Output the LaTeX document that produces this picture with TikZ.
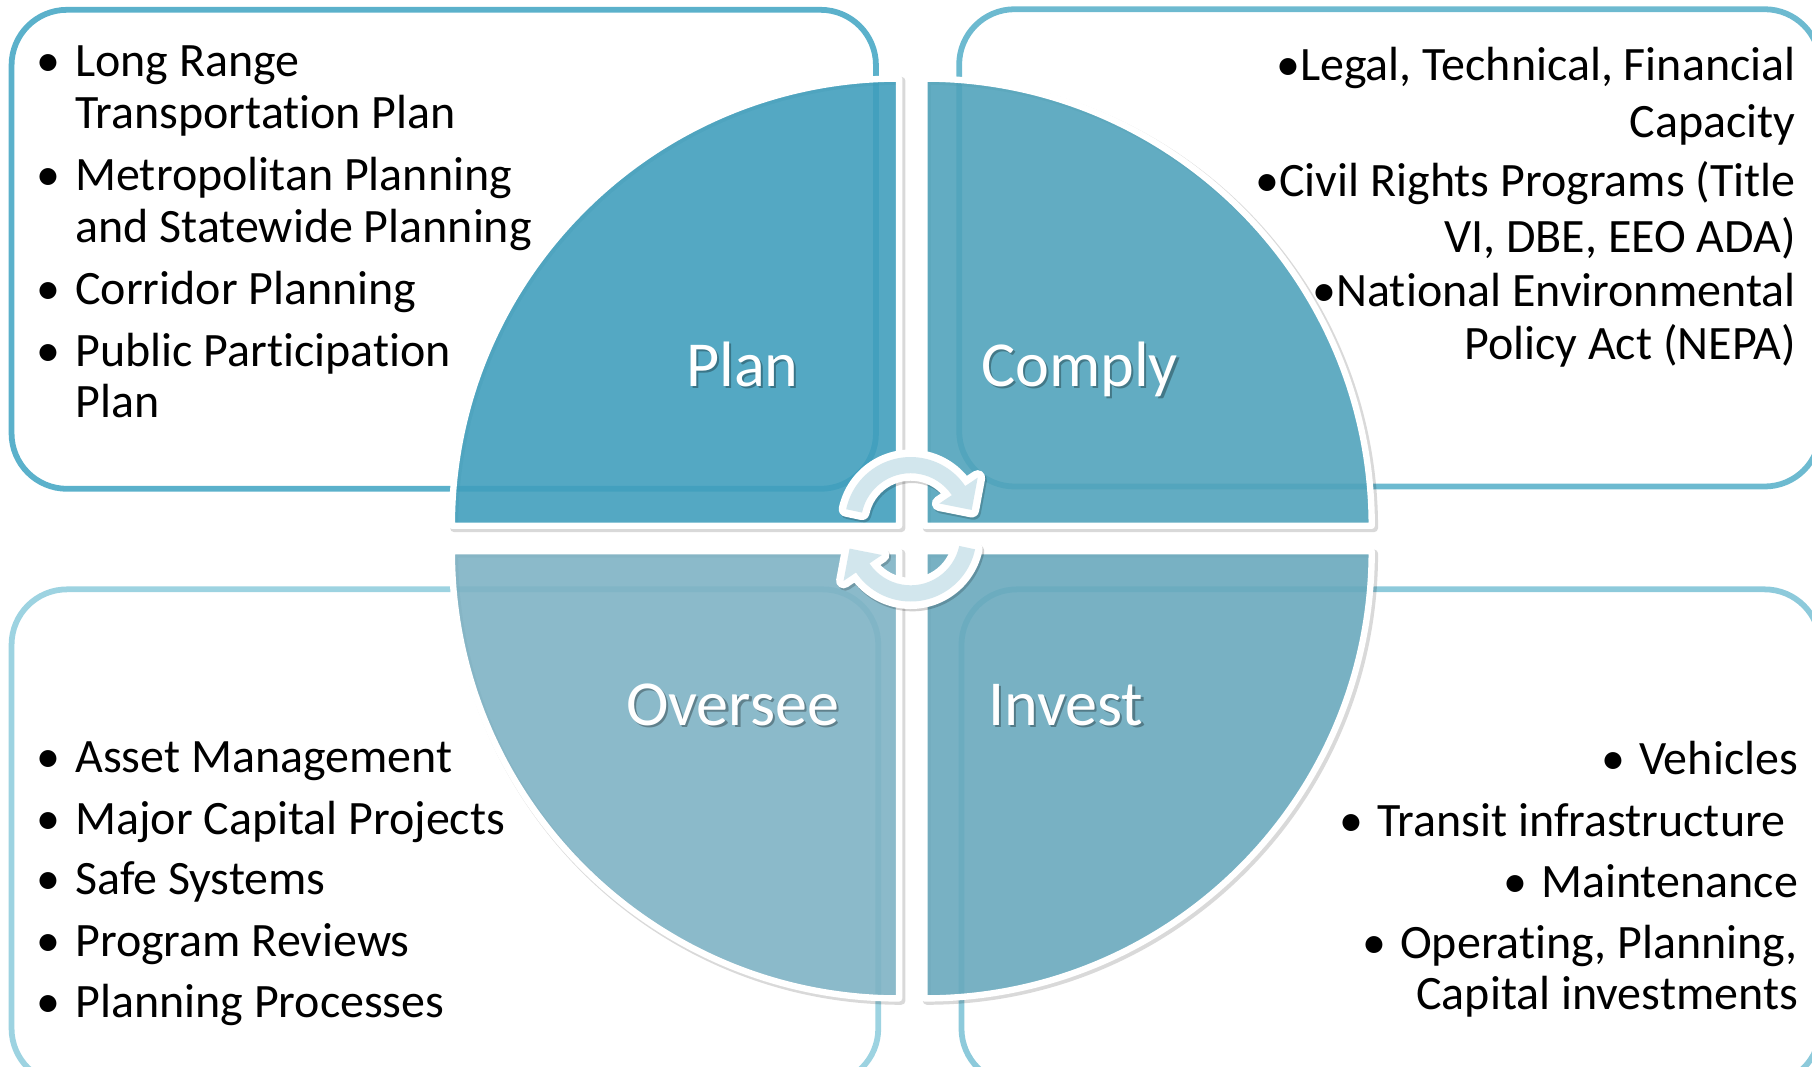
\documentclass[tikz,border=0pt]{standalone}
\usepackage{fontspec}
\setmainfont{Carlito}[RawFeature={-liga;-clig;-dlig;-calt}]
\definecolor{cTL}{HTML}{5BB1CB}
\definecolor{cTR}{HTML}{6DBAD0}
\definecolor{cBL}{HTML}{9DD3E1}
\definecolor{cBR}{HTML}{8DCADB}
\definecolor{qPlan}{HTML}{419FBD}
\definecolor{qComply}{HTML}{51A3BB}
\definecolor{qOversee}{HTML}{7EB2C4}
\definecolor{qInvest}{HTML}{69A9BD}
\definecolor{arrfill}{HTML}{D2E6ED}
\begin{document}
\begin{tikzpicture}[x=1pt,y=1pt,
  boxline/.style={line width=5pt, rounded corners=48pt},
  quad/.style={fill opacity=0.9, draw=white, line width=5.5pt, line join=round},
  qshadow/.style={draw=black, draw opacity=0.15, line width=7pt, line join=round},
  item/.style={anchor=base west, inner sep=0pt, font=\fontsize{41.5}{48}\selectfont},
  itemr/.style={anchor=base east, inner sep=0pt, font=\fontsize{41.5}{48}\selectfont},
  bul/.style={anchor=base, inner sep=0pt, font=\fontsize{41.5}{48}\selectfont},
  qlabel/.style={anchor=base west, inner sep=0pt, text=white, font=\fontsize{55.5}{60}\selectfont},
  qlabelsh/.style={anchor=base west, inner sep=0pt, text=black, text opacity=0.3, font=\fontsize{55.5}{60}\selectfont},
  arrowshape/.style={insert path={(168:57) arc[start angle=168, end angle=34, radius=57] -- (34:70) -- (12:54) -- (34:30) -- (34:43) arc[start angle=34, end angle=168, radius=43] -- cycle}},
]
\useasboundingbox (0,0) rectangle (1568,923);
\begin{scope}
\clip (0,0) rectangle (1568,923);
% boxes
\draw[boxline, draw=cTL] (10,500) rectangle (758,914.5);
\draw[boxline, draw=cTR] (830,502) rectangle (1575,915);
\draw[boxline, draw=cBL] (10,-15) rectangle (760,413);
\draw[boxline, draw=cBR] (832,-15) rectangle (1575,413);

% quadrant shadows
\draw[qshadow] (780,466) -- (393,466) arc[start angle=180, end angle=90, radius=387] -- cycle;
\draw[qshadow] (802,466) -- (802,853) arc[start angle=90, end angle=0, radius=387] -- cycle;
\draw[qshadow] (780,444) -- (780,57) arc[start angle=270, end angle=180, radius=387] -- cycle;
\draw[qshadow] (802,444) -- (1189,444) arc[start angle=0, end angle=-90, radius=387] -- cycle;
% quadrants
\draw[quad, fill=qPlan] (778,468) -- (391,468) arc[start angle=180, end angle=90, radius=387] -- cycle;
\draw[quad, fill=qComply] (800,468) -- (800,855) arc[start angle=90, end angle=0, radius=387] -- cycle;
\draw[quad, fill=qOversee] (778,446) -- (778,59) arc[start angle=270, end angle=180, radius=387] -- cycle;
\draw[quad, fill=qInvest] (800,446) -- (1187,446) arc[start angle=0, end angle=-90, radius=387] -- cycle;

% cycle arrows
\begin{scope}[shift={(788,470.5)}]
  \path[shift={(1.5,-2)}, draw=black, draw opacity=0.18, line width=13pt, line join=round, arrowshape];
  \path[draw=white, line width=13pt, line join=round, arrowshape];
  \path[fill=arrfill, arrowshape];
\end{scope}
\begin{scope}[shift={(788,459.5)}, rotate=180]
  \path[shift={(-1.5,2)}, draw=black, draw opacity=0.18, line width=13pt, line join=round, arrowshape];
  \path[draw=white, line width=13pt, line join=round, arrowshape];
  \path[fill=arrfill, arrowshape];
\end{scope}
\end{scope}

% quadrant labels
\node[qlabelsh] at (595.5,586.4) {Plan};
\node[qlabel] (plan) at (593.6,588.4) {Plan};
\node[qlabelsh] at (851,586.4) {Comply};
\node[qlabel] (comply) at (849,588.4) {Comply};
\node[qlabelsh] at (543.5,293.6) {Oversee};
\node[qlabel] (oversee) at (541.5,295.6) {Oversee};
\node[qlabelsh] at (857,293.6) {Invest};
\node[qlabel] (invest) at (855,295.6) {Invest};

% top-left list
\node[bul] (b1) at (42,857) {\textbullet};
\node[item] (t1a) at (65,857) {Long Range};
\node[item] (t1b) at (65,811.5) {Transportation Plan};
\node[bul] (b2) at (42,758.4) {\textbullet};
\node[item] (t2a) at (65,758.4) {Metropolitan Planning};
\node[item] (t2b) at (65,713) {and Statewide Planning};
\node[bul] (b3) at (42,659.5) {\textbullet};
\node[item] (t3) at (65,659.5) {Corridor Planning};
\node[bul] (b4) at (42,606) {\textbullet};
\node[item] (t4a) at (65,606) {Public Participation};
\node[item] (t4b) at (65,561.4) {Plan};

% top-right list
\node[itemr] (r1a) at (1554,853.6) {\textbullet Legal, Technical, Financial};
\node[itemr] (r1b) at (1554,803.7) {Capacity};
\node[itemr] (r2a) at (1554,753.3) {\textbullet Civil Rights Programs (Title};
\node[itemr] (r2b) at (1554,704.2) {VI, DBE, EEO ADA)};
\node[itemr] (r3a) at (1554,658) {\textbullet National Environmental};
\node[itemr] (r3b) at (1554,612) {Policy Act (NEPA)};

% bottom-left list
\node[bul] (lb1) at (42,254.2) {\textbullet};
\node[item] (l1) at (65,254.2) {Asset Management};
\node[bul] (lb2) at (42,201) {\textbullet};
\node[item] (l2) at (65,201) {Major Capital Projects};
\node[bul] (lb3) at (42,149) {\textbullet};
\node[item] (l3) at (65,149) {Safe Systems};
\node[bul] (lb4) at (42,95.6) {\textbullet};
\node[item] (l4) at (65,95.6) {Program Reviews};
\node[bul] (lb5) at (42,42.2) {\textbullet};
\node[item] (l5) at (65,42.2) {Planning Processes};

% bottom-right list
\node[itemr] (v1) at (1556,253) {\textbullet\hspace{12pt}Vehicles};
\node[itemr] (v2) at (1545,199.4) {\textbullet\hspace{12pt}Transit infrastructure};
\node[itemr] (v3) at (1556,146.6) {\textbullet\hspace{12pt}Maintenance};
\node[itemr] (v4a) at (1556,94) {\textbullet\hspace{12pt}Operating, Planning,};
\node[itemr] (v4b) at (1556,49.4) {Capital investments};
\end{tikzpicture}
\end{document}
